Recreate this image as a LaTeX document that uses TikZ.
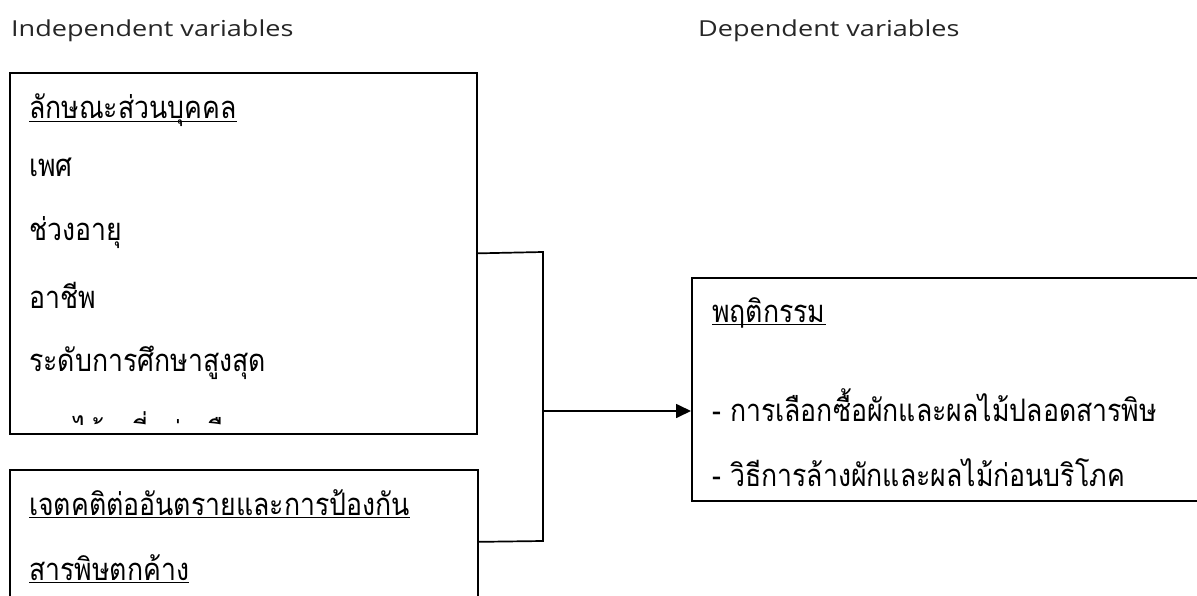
\documentclass[tikz,border=0pt]{standalone}
\usepackage{fontspec}
\setmainfont{Open Sans}[FakeStretch=1.23]
\newfontfamily\thaifont[Script=Thai,FakeStretch=0.86]{Loma}
\usetikzlibrary{arrows.meta}
\newcommand\thul[1]{\setbox0=\hbox{#1}\rlap{\rule[-3pt]{\wd0}{1.3pt}}\box0}
\tikzset{
  box/.style={draw, line width=1.7pt, rectangle, inner sep=0pt, anchor=north west},
  th/.style={anchor=base west, inner sep=0pt, font=\thaifont\fontsize{31}{36}\selectfont},
  lat/.style={anchor=base west, inner sep=0pt, font=\fontsize{22}{26}\selectfont, text=black!85},
  conn/.style={line width=1.7pt}
}
\begin{document}
\begin{tikzpicture}[x=1pt,y=-1pt]
\clip (0,0) rectangle (1197,596);
\useasboundingbox (0,0) rectangle (1197,596);
\fill[white] (0,0) rectangle (1197,596);
\node[lat] (h1) at (11,37) {Independent variables};
\node[lat] (h2) at (698,37) {Dependent variables};
% box 1
\node[box, minimum width=467pt, minimum height=361pt] (b1) at (9,72) {};
\node[th] (t11) at (29,119) {\thul{ลักษณะส่วนบุคคล}};
\node[th] (t12) at (29,177) {เพศ};
\node[th] (t13) at (29,241) {ช่วงอายุ};
\node[th] (t14) at (29,308) {อาชีพ};
\node[th] (t15) at (29,371) {ระดับการศึกษาสูงสุด};
\begin{scope}
\clip (9,72) rectangle (476,424);
\node[th] (t16) at (29,443) {รายได้เฉลี่ยต่อเดือน};
\end{scope}
% box 2
\node[box, minimum width=468pt, minimum height=144pt] (b2) at (9,469) {};
\node[th] (t21) at (29,515) {\thul{เจตคติต่ออันตรายและการป้องกัน}};
\node[th] (t22) at (29,580) {\thul{สารพิษตกค้าง}};
% box 3
\node[box, minimum width=530pt, minimum height=223pt] (b3) at (691,277) {};
\node[th] (t31) at (712,322) {\thul{พฤติกรรม}};
\node[th] (t32) at (712,421) {- การเลือกซื้อผักและผลไม้ปลอดสารพิษ};
\node[th] (t33) at (712,486) {- วิธีการล้างผักและผลไม้ก่อนบริโภค};
% connectors
\coordinate (j1) at (543,252);
\coordinate (j2) at (543,541);
\coordinate (j3) at (543,411);
\draw[conn] (b1.east) -- (j1) -- (j2) -- (b2.east);
\draw[conn, -{Triangle[length=15pt,width=14pt]}] (j3) -- (b3.west |- j3);
\end{tikzpicture}
\end{document}
